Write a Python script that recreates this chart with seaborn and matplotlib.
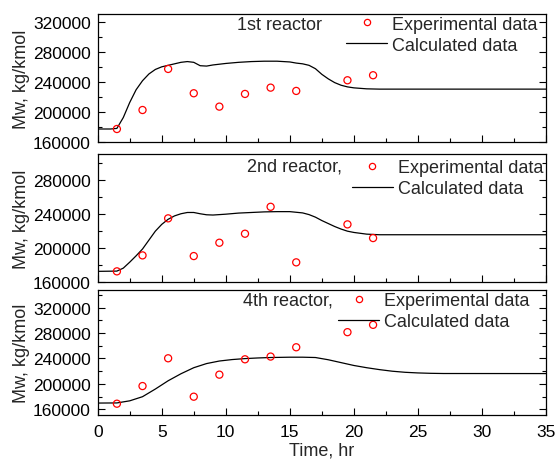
import numpy as np
import pandas as pd
import matplotlib
matplotlib.use('Agg')
import matplotlib.pyplot as plt
import seaborn as sns
from matplotlib.ticker import MultipleLocator, StrMethodFormatter
from matplotlib.lines import Line2D

sns.set_style('ticks')
plt.rcParams['font.family'] = ['Liberation Sans', 'DejaVu Sans']

# experimental sampling times (hr)
t_exp = [1.5, 3.5, 5.5, 7.5, 9.5, 11.5, 13.5, 15.5, 19.5, 21.5]

# 1st reactor
mw1_exp = [177700, 203000, 257700, 225300, 207500, 224400, 232800, 228400, 242600, 249300]
t1_calc = [0, 1.0, 1.5, 2.0, 2.5, 3.0, 3.5, 4.0, 4.5, 5.0, 5.5, 6.0, 6.5, 7.0, 7.5, 8.0,
           8.5, 9.0, 10, 11, 12, 13, 14, 15, 15.5, 16.0, 16.5, 17, 17.5, 18, 18.5, 19,
           19.5, 20, 21, 22, 35]
mw1_calc = [177700, 177700, 178500, 193000, 213000, 230000, 242000, 251000, 257000,
            260500, 262500, 264500, 266500, 267500, 266500, 262000, 261500, 263000,
            265000, 266500, 267500, 268000, 268000, 267000, 265500, 264500, 262500,
            258000, 250500, 244500, 239500, 236000, 233800, 232500, 231200, 230800, 230800]

# 2nd reactor
mw2_exp = [172200, 191000, 234600, 190200, 205900, 216500, 248200, 182800, 227500, 211400]
t2_calc = [0, 1.5, 2.0, 2.5, 3.0, 3.5, 4.0, 4.5, 5.0, 5.5, 6.0, 6.5, 7.0, 7.5, 8.0, 8.5,
           9.0, 10, 11, 12, 13, 14, 15, 16, 16.5, 17, 17.5, 18, 18.5, 19, 19.5, 20, 21,
           22, 35]
mw2_calc = [172200, 172500, 176000, 183000, 190500, 198500, 209000, 219500, 227500,
            233500, 237500, 240000, 241500, 241500, 240000, 238800, 238500, 239500,
            240800, 241500, 242200, 242500, 242500, 241000, 239000, 236000, 232000,
            228500, 225000, 222000, 219500, 218000, 216000, 215300, 215300]

# 4th reactor
mw4_exp = [169000, 196700, 240300, 180000, 214600, 238700, 243000, 257600, 281300, 292800]
t4_calc = [0, 1.5, 2.5, 3.5, 4.5, 5.5, 6.5, 7.5, 8.5, 9.5, 10.5, 11.5, 12.5, 13.5, 15,
           16, 17, 18, 19, 20, 21, 22, 23, 24, 25, 26, 27, 35]
mw4_calc = [170000, 170200, 173500, 180000, 192000, 205000, 216000, 225500, 232000,
            236000, 238300, 239800, 240800, 241500, 242000, 242000, 241500, 238000,
            233500, 229000, 225500, 222500, 220000, 218300, 217300, 216700, 216400, 216300]

panels = [
    dict(t_calc=t1_calc, calc=mw1_calc, exp=mw1_exp, title='1st reactor',
         ylim=(160000, 330500), yticks=np.arange(160000, 320001, 40000)),
    dict(t_calc=t2_calc, calc=mw2_calc, exp=mw2_exp, title='2nd reactor,',
         ylim=(160000, 310000), yticks=np.arange(160000, 280001, 40000)),
    dict(t_calc=t4_calc, calc=mw4_calc, exp=mw4_exp, title='4th reactor,',
         ylim=(150500, 347500), yticks=np.arange(160000, 320001, 40000)),
]

# layout (figure fractions)
positions = [[0.1757, 0.6885, 0.8063, 0.2783],
             [0.1757, 0.3854, 0.8063, 0.2770],
             [0.1757, 0.0946, 0.8063, 0.2728]]
title_pos = [(0.310, 0.924), (0.332, 0.910), (0.324, 0.923)]
legend_pos = [(0.554, 0.99), (0.567, 0.962), (0.537, 0.985)]

fig = plt.figure(figsize=(5.56, 4.60), dpi=100)

for i, p in enumerate(panels):
    ax = fig.add_axes(positions[i])
    df_calc = pd.DataFrame({'t': p['t_calc'], 'mw': p['calc']})
    df_exp = pd.DataFrame({'t': t_exp, 'mw': p['exp']})
    sns.lineplot(data=df_calc, x='t', y='mw', ax=ax, color='black', linewidth=0.9,
                 estimator=None, sort=False, zorder=2)
    sns.scatterplot(data=df_exp, x='t', y='mw', ax=ax, s=26, marker='o',
                    facecolor='none', edgecolor='red', linewidth=0.9, zorder=3)

    ax.set_xlim(0, 35)
    ax.set_ylim(*p['ylim'])
    ax.set_yticks(p['yticks'])
    ax.yaxis.set_minor_locator(MultipleLocator(20000))
    ax.yaxis.set_major_formatter(StrMethodFormatter('{x:.0f}'))
    ax.xaxis.set_major_locator(MultipleLocator(5))
    ax.xaxis.set_minor_locator(MultipleLocator(2.5))

    ax.tick_params(which='both', direction='in', left=True, right=True, bottom=True,
                   top=False, width=0.8, colors='black')
    ax.tick_params(which='major', length=5)
    ax.tick_params(which='minor', length=3)
    ax.tick_params(axis='y', labelsize=12.5, pad=5)
    ax.tick_params(axis='x', labelsize=12.5, pad=6)
    for s in ax.spines.values():
        s.set_visible(True)
        s.set_color('black')
        s.set_linewidth(0.9)

    ax.set_ylabel('Mw, kg/kmol', fontsize=13, labelpad=2)
    if i < 2:
        ax.set_xticklabels([])
        ax.set_xlabel('')
    else:
        ax.set_xlabel('Time, hr', fontsize=13, labelpad=2)

    ax.text(title_pos[i][0], title_pos[i][1], p['title'], transform=ax.transAxes,
            fontsize=13, ha='left', va='center')

    handles = [Line2D([], [], linestyle='none', marker='o', markersize=4.5,
                      markerfacecolor='none', markeredgecolor='red', markeredgewidth=0.9),
               Line2D([], [], color='black', linewidth=0.9)]
    ax.legend(handles, ['Experimental data', 'Calculated data'], loc='upper left',
              bbox_to_anchor=legend_pos[i], frameon=False, fontsize=13,
              borderpad=0, borderaxespad=0, handlelength=2.27, handletextpad=0.28,
              labelspacing=0.22)

fig.savefig('out.png', dpi=100)
